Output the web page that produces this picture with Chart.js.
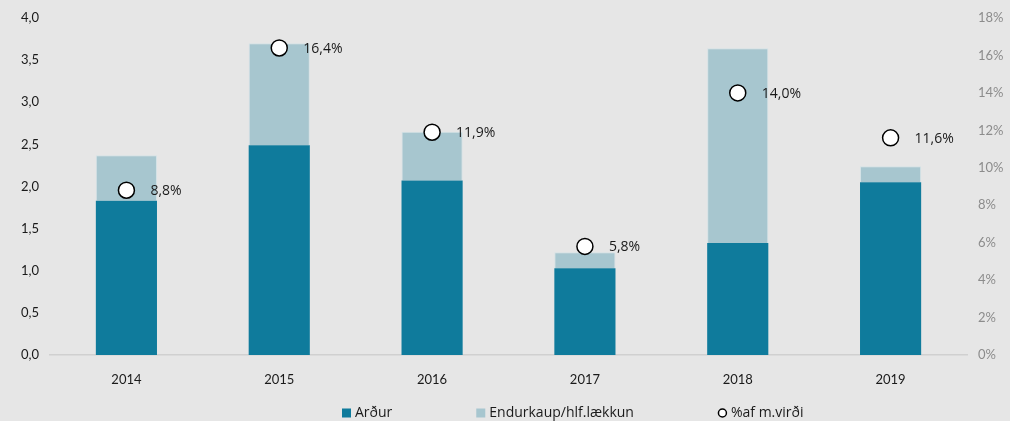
<!DOCTYPE html>
<html>
<head>
<meta charset="utf-8">
<script src="https://cdn.jsdelivr.net/npm/chart.js@4"></script>
<style>
html,body{margin:0;padding:0;background:#e6e6e6;}
#wrap{width:1010px;height:421px;}
</style>
</head>
<body>
<div id="wrap"><canvas id="graf" width="1010" height="421"></canvas></div>
<script>
// gögn lesin af myndinni
const ar=["2014","2015","2016","2017","2018","2019"];
const ardur=[1.83,2.49,2.07,1.03,1.33,2.05];
const endurkaup=[0.54,1.21,0.58,0.19,2.31,0.19];
const hlutfall=[8.8,16.4,11.9,5.8,14.0,11.6];

const leturgerd="Lato, 'Open Sans', sans-serif";
const letur2="'Open Sans', sans-serif";

const merkingar={
id:"merkingar",
afterDatasetsDraw(chart){
let ctx=chart.ctx;
let meta=chart.getDatasetMeta(2);
ctx.save();
ctx.font="14px "+letur2;
ctx.fillStyle="#1a1a1a";
ctx.textBaseline="middle";
meta.data.forEach((p,i)=>{
ctx.fillText(hlutfall[i].toFixed(1).replace(".",",")+"%",p.x+24,p.y+1);
});
ctx.restore();
}
};

// skýringar neðst, dreift eins og í Excel
const skyringar={
id:"skyringar",
afterDraw(chart){
let ctx=chart.ctx;
ctx.save();
ctx.font="14px "+letur2;
ctx.textBaseline="middle";
let bil=84,box=9,milli=4;
let x=342;
let y=413;
chart.data.datasets.forEach((d,i)=>{
if(i===2){
ctx.beginPath();
ctx.arc(x+box/2,y,4,0,Math.PI*2);
ctx.fillStyle="#ffffff";
ctx.fill();
ctx.lineWidth=1.5;
ctx.strokeStyle="#000000";
ctx.stroke();
}else{
ctx.fillStyle=d.backgroundColor;
ctx.fillRect(x,y-4.5,box,box);
}
ctx.fillStyle="#1a1a1a";
ctx.fillText(d.label,x+box+milli,y);
x+=box+milli+ctx.measureText(d.label).width+bil;
});
ctx.restore();
}
};

new Chart(
document.getElementById("graf"),
{
data:{
labels:ar,
datasets:[
{
type:"bar",
label:"Arður",
data:ardur,
backgroundColor:"#0f7b9c",
yAxisID:"y",
order:2,
barPercentage:0.4,
categoryPercentage:1
},
{
type:"bar",
label:"Endurkaup/hlf.lækkun",
data:endurkaup,
backgroundColor:"#a7c6cf",
borderColor:"#d4e2e6",
borderWidth:{top:1,left:1,right:1,bottom:0},
yAxisID:"y",
order:2,
barPercentage:0.4,
categoryPercentage:1
},
{
type:"line",
label:"%af m.virði",
data:hlutfall,
yAxisID:"y1",
showLine:false,
pointRadius:8,
pointHoverRadius:8,
pointBackgroundColor:"#ffffff",
pointBorderColor:"#000000",
pointBorderWidth:1.5,
backgroundColor:"#ffffff",
borderColor:"#000000",
order:0
}
]
},
options:{
responsive:false,
animation:false,
layout:{padding:{top:18,bottom:0,left:0,right:0}},
plugins:{
tooltip:{enabled:false},
legend:{display:false}
},
scales:{
x:{
stacked:true,
grid:{display:false},
border:{display:true,color:"#d0d0d0",width:1.5},
ticks:{color:"#1a1a1a",font:{family:leturgerd,size:13},padding:9},
afterFit(s){s.height=66;}
},
y:{
stacked:true,
position:"left",
min:0,
max:4,
grid:{display:false},
border:{display:false},
ticks:{
stepSize:0.5,
color:"#1a1a1a",
font:{family:leturgerd,size:13},
callback:v=>v.toFixed(1).replace(".",",")
},
afterFit(s){s.width=50;}
},
y1:{
position:"right",
min:0,
max:18,
grid:{display:false},
border:{display:false},
ticks:{
stepSize:2,
color:"#8c8c8c",
font:{family:leturgerd,size:13},
callback:v=>v+"%"
},
afterFit(s){s.width=43;}
}
}
},
plugins:[merkingar,skyringar]
}
);
</script>
</body>
</html>
